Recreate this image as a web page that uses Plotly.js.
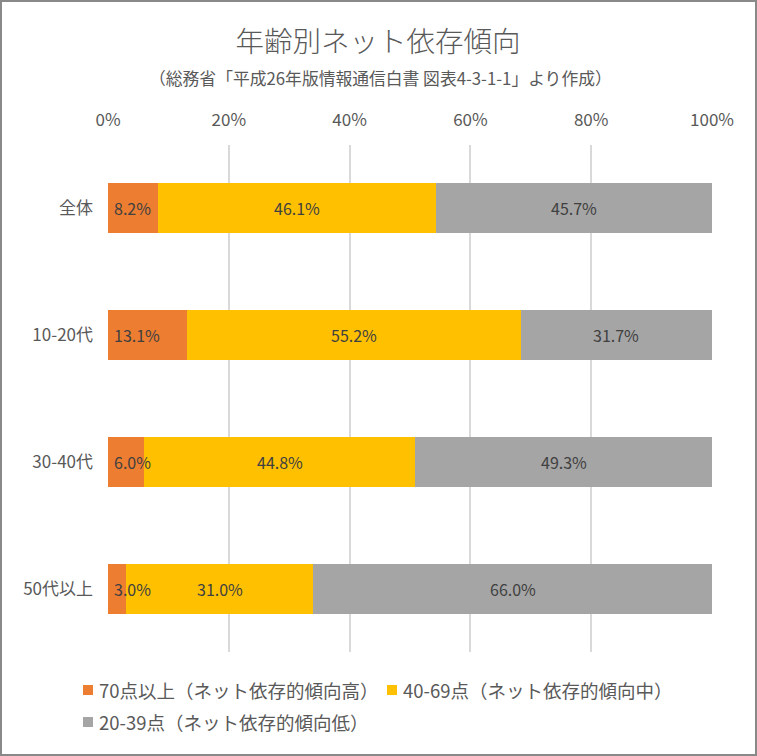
<!DOCTYPE html>
<html>
<head>
<meta charset="utf-8">
<script src="https://cdn.plot.ly/plotly-3.0.1.min.js"></script>
<style>
html,body{margin:0;padding:0;background:#fff;}
#wrap{position:relative;width:757px;height:756px;}
#chart{position:absolute;left:0;top:0;width:757px;height:756px;}
#frame{position:absolute;left:0;top:0;width:757px;height:756px;box-sizing:border-box;border:2px solid #898989;pointer-events:none;}
</style>
</head>
<body>
<div id="wrap"><div id="chart"></div><div id="frame"></div></div>
<script>
const categories = ['全体', '10-20代', '30-40代', '50代以上'];
const high = [8.2, 13.1, 6.0, 3.0];
const mid = [46.1, 55.2, 44.8, 31.0];
const low = [45.7, 31.7, 49.3, 66.0];
const seriesNames = ['70点以上（ネット依存的傾向高）', '40-69点（ネット依存的傾向中）', '20-39点（ネット依存的傾向低）'];
const tickVals = [0, 20, 40, 60, 80, 100];
const tickText = ['0%', '20%', '40%', '60%', '80%', '100%'];

const FONT = '"Noto Sans CJK JP", "Noto Sans", sans-serif';
const colors = ['#ED7D31', '#FFC000', '#A5A5A5'];
const vals = [high, mid, low];

// plot-area geometry (px)
const W = 757, H = 756, ML = 108, MR = 45, MT = 145, MB = 104;
const PW = W - ML - MR, PH = H - MT - MB;
const px2x = p => (p - ML) / PW;
const py2y = p => (H - MB - p) / PH;

const traces = vals.map((v, i) => ({
  type: 'bar',
  orientation: 'h',
  name: seriesNames[i],
  y: categories,
  x: v,
  marker: {color: colors[i], line: {width: 0}},
  hoverinfo: 'none',
  showlegend: false
}));

// data labels via annotations at data coordinates
const annotations = [];
categories.forEach((c, j) => {
  let start = 0;
  vals.forEach((v, i) => {
    const val = v[j];
    const lab = val.toFixed(1) + '%';
    if (i === 0) {
      annotations.push({x: 0, y: c, xref: 'x', yref: 'y', text: lab, showarrow: false,
        xanchor: 'left', xshift: 4, yanchor: 'middle',
        font: {family: FONT, size: 16, color: '#404040'}});
    } else {
      annotations.push({x: start + val / 2, y: c, xref: 'x', yref: 'y', text: lab, showarrow: false,
        xanchor: 'center', yanchor: 'middle',
        font: {family: FONT, size: 16, color: '#404040'}});
    }
    start += val;
  });
});

annotations.push({
  text: '（総務省「平成26年版情報通信白書 図表4-3-1-1」より作成）',
  xref: 'paper', yref: 'paper',
  x: px2x(380), xanchor: 'center',
  y: py2y(78), yanchor: 'middle',
  showarrow: false,
  font: {family: FONT, size: 16.8, color: '#595959'}
});

// custom legend (squares + text), built from seriesNames and colors
const legendPos = [[88, 690], [392, 690], [88, 722]];
const shapes = [];
seriesNames.forEach((n, i) => {
  const [lx, ly] = legendPos[i];
  shapes.push({type: 'rect', xref: 'paper', yref: 'paper',
    x0: px2x(lx - 5), x1: px2x(lx + 5), y0: py2y(ly + 5), y1: py2y(ly - 5),
    fillcolor: colors[i], line: {width: 0}});
  annotations.push({text: n, xref: 'paper', yref: 'paper', x: px2x(lx + 9), y: py2y(ly),
    xanchor: 'left', yanchor: 'middle', showarrow: false,
    font: {family: FONT, size: 18.5, color: '#595959'}});
});

const layout = {
  width: W, height: H,
  paper_bgcolor: '#fff', plot_bgcolor: '#fff',
  barmode: 'stack',
  bargap: 0.605,
  margin: {l: ML, r: MR, t: MT, b: MB},
  font: {family: FONT, color: '#595959'},
  title: {
    text: '年齢別ネット依存傾向',
    font: {family: FONT, size: 28.5, color: '#595959', weight: 300},
    x: px2x(378), xref: 'paper', xanchor: 'center',
    y: 1 - 42 / H, yref: 'container', yanchor: 'middle'
  },
  annotations: annotations,
  shapes: shapes,
  xaxis: {
    side: 'top',
    range: [0, 100],
    tickvals: tickVals,
    ticktext: tickText,
    showgrid: true,
    gridcolor: '#D9D9D9',
    gridwidth: 2,
    zeroline: false,
    showline: false,
    ticks: '',
    ticklabelstandoff: 15,
    tickfont: {family: FONT, size: 17, color: '#595959'},
    fixedrange: true
  },
  yaxis: {
    type: 'category',
    autorange: 'reversed',
    showgrid: false,
    zeroline: false,
    showline: false,
    ticks: '',
    ticklabelstandoff: 14,
    tickfont: {family: FONT, size: 17, color: '#595959'},
    fixedrange: true
  },
  showlegend: false
};

Plotly.newPlot('chart', traces, layout, {displayModeBar: false, staticPlot: true});
</script>
</body>
</html>
